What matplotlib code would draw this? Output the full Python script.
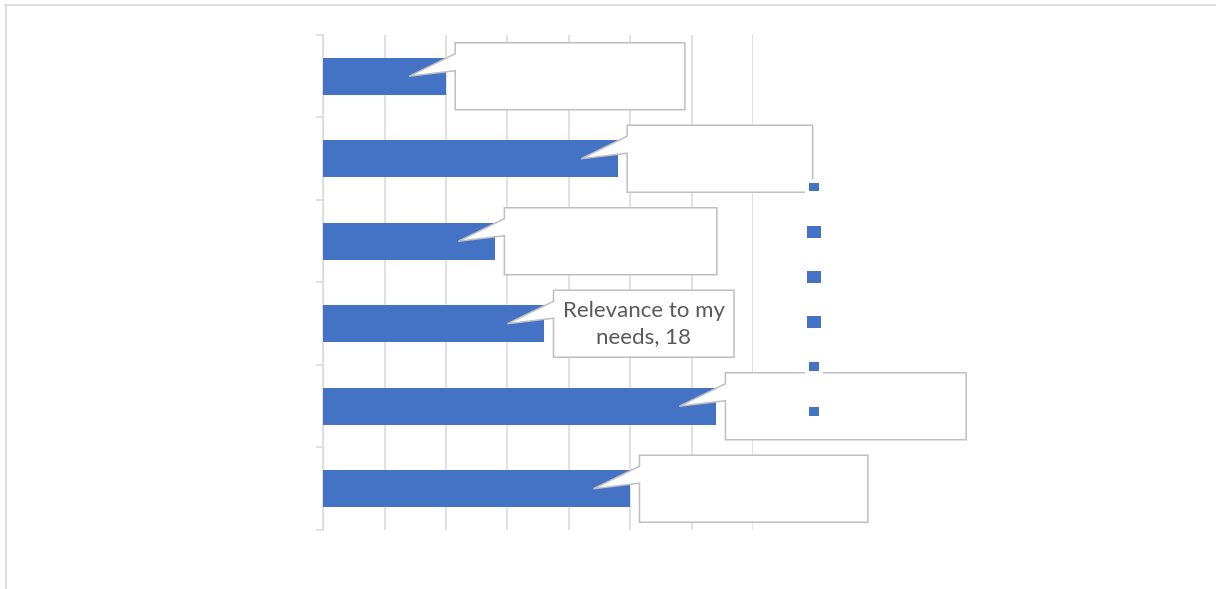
import matplotlib.pyplot as plt
from matplotlib.patches import Polygon, Patch
from matplotlib.lines import Line2D

# 調査結果（上から順に）
categories = ["", "", "", "Relevance to my needs", "", ""]
values = [10, 24, 14, 18, 32, 25]
# 吹き出しの横幅（データ単位）
box_widths = [18.7, 15.1, 17.3, 14.7, 19.6, 18.6]
# 吹き出しに文字を出すかどうか
show_label = [False, False, False, True, False, False]

BAR_COLOR = "#4472C4"
GRID_COLOR = "#D9D9D9"
BOX_EDGE = "#BFBFBF"
TEXT_COLOR = "#595959"


def callout(ax, y, value, width, text):
    # 吹き出しの矩形 + 左辺から棒の中へ伸びるくちばし
    left = value + 0.75
    right = left + width
    h = 0.406
    verts = [
        (left, y - h), (right, y - h), (right, y + h), (left, y + h),
        (left, y - 0.067), (value - 3, y), (left, y - 0.273),
    ]
    poly = Polygon(verts, closed=True, facecolor="white", edgecolor=BOX_EDGE,
                   linewidth=1.1, clip_on=False, zorder=4, joinstyle="miter")
    ax.add_patch(poly)
    if text:
        ax.text((left + right) / 2, y, text, ha="center", va="center",
                fontsize=16, color=TEXT_COLOR, family="Lato",
                linespacing=1.38, zorder=5, clip_on=False)


def main():
    fig = plt.figure(figsize=(12.16, 5.89), dpi=100)
    ax = fig.add_axes([0.2658, 0.1002, 0.3535, 0.8404])

    ypos = list(range(len(values)))
    ax.barh(ypos, values, height=0.45, color=BAR_COLOR, zorder=3)

    ax.set_xlim(0, 35)
    ax.set_ylim(len(values) - 0.5, -0.5)
    ax.set_xticks(range(0, 36, 5))
    ax.set_xticklabels([])
    ax.tick_params(axis="x", length=0)
    ax.grid(axis="x", color=GRID_COLOR, linewidth=1.1, zorder=0)
    ax.set_axisbelow(True)

    # 縦軸は区切り位置に目盛りだけ
    ax.set_yticks([i - 0.5 for i in range(len(values) + 1)])
    ax.set_yticklabels([])
    ax.tick_params(axis="y", length=5, width=1.1, color=GRID_COLOR)
    for s in ["top", "right", "bottom"]:
        ax.spines[s].set_visible(False)
    ax.spines["left"].set_color(GRID_COLOR)
    ax.spines["left"].set_linewidth(1.1)

    for i, v in enumerate(values):
        text = ""
        if show_label[i]:
            text = "Relevance to my\nneeds, " + str(v)
        callout(ax, i, v, box_widths[i], text)

    # 凡例（文字なしのマーカーだけ）
    edge_w = [2.9, 0, 0, 0, 2.9, 2.9]
    handles = [Patch(facecolor=BAR_COLOR, edgecolor="white", linewidth=w) for w in edge_w]
    fig.legend(handles, [" "] * len(values), loc="upper left",
               bbox_to_anchor=(807 / 1216, 1 - 181 / 589), frameon=False,
               borderpad=0, borderaxespad=0, fontsize=10,
               handlelength=1.0, handleheight=1.0, labelspacing=2.22)

    # グラフエリアの枠線（上と左）
    fig.add_artist(Line2D([5 / 1216, 1], [1 - 4.5 / 589, 1 - 4.5 / 589],
                          color=GRID_COLOR, linewidth=1.2))
    fig.add_artist(Line2D([5.5 / 1216, 5.5 / 1216], [0, 1 - 4.5 / 589],
                          color=GRID_COLOR, linewidth=1.2))

    fig.savefig("out.png", dpi=100)


if __name__ == "__main__":
    main()
